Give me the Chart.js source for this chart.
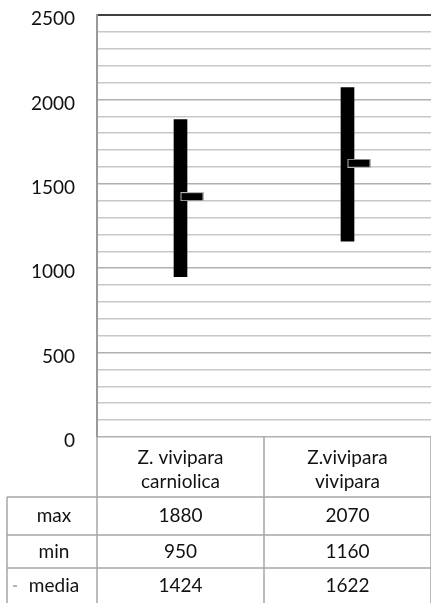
<!DOCTYPE html>
<html>
<head>
<meta charset="utf-8">
<script src="https://cdn.jsdelivr.net/npm/chart.js@4"></script>
<style>
  html, body { margin: 0; padding: 0; background: #fff; }
  #wrap { width: 431px; height: 603px; overflow: hidden; position: relative; }
  #box { width: 437px; height: 603px; position: absolute; left: 0; top: 0; }
</style>
</head>
<body>
<div id="wrap"><div id="box"><canvas id="chart"></canvas></div></div>
<script>
// Stock-style chart (min/max bar + media marker) with a data table underneath.
const categories = [["Z. vivipara", "carniolica"], ["Z.vivipara", "vivipara"]];
const maxValues = [1880, 2070];
const minValues = [950, 1160];
const mediaValues = [1424, 1622];
const rowLabels = ["max", "min", "media"];
const yTicks = [0, 500, 1000, 1500, 2000, 2500];

const FONT = "Lato, 'Open Sans', sans-serif";
const LINE = "#a6a6a6";
const TEXT = "#111";

// marker for "media": a short dash drawn to the right of the bar centre
function mediaMarker() {
  const c = document.createElement("canvas");
  c.width = 46; c.height = 9;
  const g = c.getContext("2d");
  g.fillStyle = "#b4b4b4"; g.fillRect(23, 0, 23, 9);
  g.fillStyle = "#000"; g.fillRect(24, 1, 21, 7);
  return c;
}

// draws the category row + data table below the plot
const tablePlugin = {
  id: "dataTable",
  afterDraw(chart) {
    const { ctx, chartArea: a, scales: { x } } = chart;
    const rows = [maxValues, minValues, mediaValues];
    const headBottom = a.bottom + 60;
    const rowH = [38, 33, 36];
    const tableLeft = 7;
    const half = (x.getPixelForValue(1) - x.getPixelForValue(0)) / 2;
    const cols = categories.map((_, i) => x.getPixelForValue(i));

    ctx.save();
    ctx.strokeStyle = LINE;
    ctx.lineWidth = 1.5;
    ctx.fillStyle = TEXT;
    ctx.font = "19px " + FONT;
    ctx.textAlign = "center";
    ctx.textBaseline = "middle";

    // category header
    categories.forEach((lines, i) => {
      lines.forEach((t, j) => ctx.fillText(t, cols[i], a.bottom + 21 + j * 24));
    });

    // rows
    let y = headBottom;
    const lineYs = [y];
    rows.forEach((vals, r) => {
      const cy = y + rowH[r] / 2;
      ctx.fillText(rowLabels[r], (tableLeft + a.left) / 2 + 2, cy);
      vals.forEach((v, i) => ctx.fillText(String(v), cols[i], cy));
      y += rowH[r];
      lineYs.push(y);
    });

    // legend key for media
    ctx.fillStyle = "#b4b4b4";
    ctx.fillRect(13, headBottom + 38 + 33 + 17, 4, 2);

    // grid of the table
    ctx.beginPath();
    lineYs.forEach(ly => { ctx.moveTo(tableLeft, ly); ctx.lineTo(chart.width, ly); });
    ctx.moveTo(tableLeft, headBottom); ctx.lineTo(tableLeft, chart.height);
    ctx.moveTo(a.left, a.bottom); ctx.lineTo(a.left, chart.height);
    cols.forEach(cx => { ctx.moveTo(cx + half, a.bottom); ctx.lineTo(cx + half, chart.height); });
    ctx.stroke();
    ctx.restore();
  }
};

new Chart(document.getElementById("chart"), {
  data: {
    labels: categories.map(c => c.join(" ")),
    datasets: [
      {
        type: "bar",
        label: "range",
        data: minValues.map((v, i) => [v, maxValues[i]]),
        backgroundColor: "#000",
        borderColor: "#000",
        borderWidth: 0,
        barThickness: 13,
        order: 2
      },
      {
        type: "line",
        label: "media",
        data: mediaValues,
        showLine: false,
        pointStyle: mediaMarker(),
        pointRadius: 5,
        order: 1
      }
    ]
  },
  options: {
    responsive: true,
    maintainAspectRatio: false,
    animation: false,
    layout: { padding: { top: 15, right: 0, bottom: 166, left: 0 } },
    plugins: { legend: { display: false }, tooltip: { enabled: false } },
    scales: {
      x: { display: false },
      y: {
        min: 0,
        max: 2500,
        afterFit(s) { s.width = 97; s.paddingTop = 0; s.paddingBottom = 0; },
        border: { display: true, color: "#999", width: 2 },
        grid: {
          drawTicks: false,
          color: c => c.tick.value === 2500 ? "#404040" : (c.tick.value % 500 === 0 ? "#b0b0b0" : "#c8c8c8"),
          lineWidth: c => c.tick.value === 2500 ? 2 : 1.5
        },
        ticks: {
          stepSize: 100,
          autoSkip: false,
          padding: 22,
          labelOffset: 4,
          color: TEXT,
          font: { family: FONT, size: 19 },
          callback: v => yTicks.includes(v) ? String(v) : ""
        }
      }
    }
  },
  plugins: [tablePlugin]
});
</script>
</body>
</html>
